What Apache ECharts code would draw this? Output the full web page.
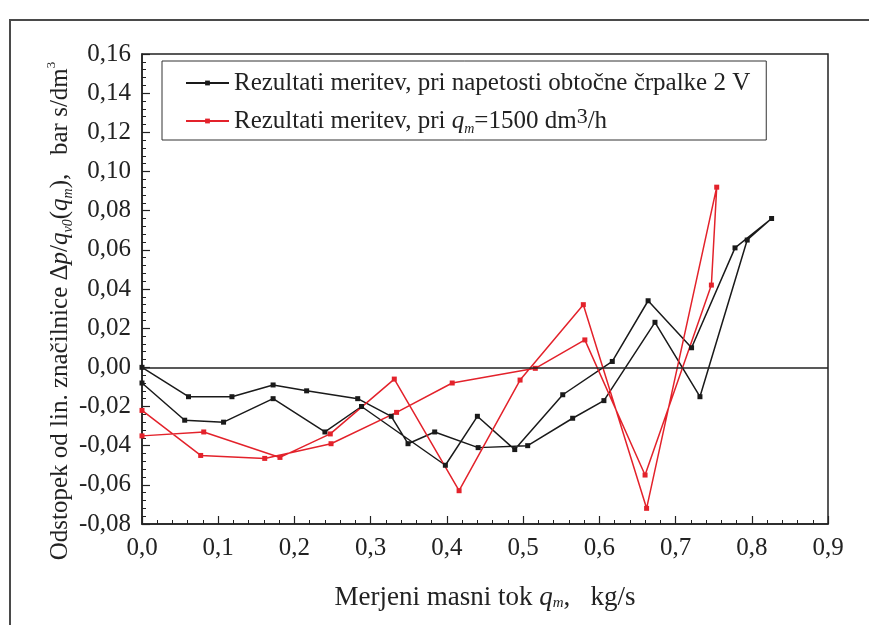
<!DOCTYPE html>
<html>
<head>
<meta charset="utf-8">
<script src="https://cdn.jsdelivr.net/npm/echarts@6/dist/echarts.min.js"></script>
<style>html,body{margin:0;padding:0;background:#fff}#c{width:869px;height:625px}</style>
</head>
<body>
<div id="c"></div>
<script>
// ---- data ----
const blackName = 'Rezultati meritev, pri napetosti obtočne črpalke 2 V';
const redName = 'Rezultati meritev, pri q_m=1500 dm3/h';
const blackX = [0.000,0.056,0.107,0.172,0.240,0.288,0.398,0.440,0.489,0.552,0.617,0.664,0.721,0.778,0.826,0.794,0.732,0.673,0.606,0.565,0.506,0.441,0.384,0.349,0.327,0.283,0.216,0.172,0.118,0.061,0.000];
const blackY = [-0.008,-0.027,-0.028,-0.016,-0.033,-0.020,-0.050,-0.025,-0.042,-0.014,0.003,0.034,0.010,0.061,0.076,0.065,-0.015,0.023,-0.017,-0.026,-0.040,-0.041,-0.033,-0.039,-0.025,-0.016,-0.012,-0.009,-0.015,-0.015,0.000];
const redX = [0.000,0.081,0.181,0.247,0.331,0.416,0.496,0.579,0.662,0.754,0.747,0.660,0.581,0.516,0.407,0.334,0.248,0.161,0.077,0.000];
const redY = [-0.035,-0.033,-0.046,-0.034,-0.006,-0.063,-0.0065,0.032,-0.072,0.092,0.042,-0.055,0.014,-0.0005,-0.008,-0.023,-0.039,-0.0465,-0.045,-0.022];
const xTicks = {min:0, max:0.9, step:0.1};
const yTicks = {min:-0.08, max:0.16, step:0.02};

const FONT = '"Liberation Serif", "Times New Roman", serif';
const BLACK = '#1a1a1a', RED = '#e3222b';
const pairs = (xs, ys) => xs.map((x, i) => [x, ys[i]]);
const richCommon = (fs, supFs) => ({
  i:   {fontFamily: FONT, fontSize: fs, fontStyle: 'italic', color: '#222'},
  sub: {fontFamily: FONT, fontSize: Math.round(fs*0.55), lineHeight: Math.round(fs*0.55), fontStyle: 'italic', color: '#222', verticalAlign: 'bottom'},
  sup: {fontFamily: FONT, fontSize: supFs, lineHeight: supFs, color: '#222', verticalAlign: 'top'}
});

const chart = echarts.init(document.getElementById('c'), null, {renderer: 'canvas'});
chart.setOption({
  animation: false,
  backgroundColor: '#fff',
  grid: {left: 142, right: 41, top: 54, bottom: 101, show: true, borderColor: '#222', borderWidth: 1.5, backgroundColor: 'transparent'},
  graphic: [
    {type: 'rect', shape: {x: 10, y: 20, width: 900, height: 700}, style: {fill: null, stroke: '#4a4a4a', lineWidth: 2}, silent: true},
    {type: 'text', x: 60, y: 311, rotation: Math.PI/2,
     style: {text: 'Odstopek od lin. značilnice Δ{i|p}/{i|q}{sub|v0}({i|q}{sub|m}),   bar s/dm{sup|3}',
       fontFamily: FONT, fontSize: 25, lineHeight: 30, fill: '#222', align: 'center', verticalAlign: 'middle',
       rich: richCommon(25, 13)}}
  ],
  legend: {
    show: true, orient: 'vertical', left: 162, top: 61,
    padding: [7, 16, 4, 23], itemGap: 8, itemWidth: 43, itemHeight: 6,
    borderColor: '#333', borderWidth: 1, backgroundColor: '#fff',
    textStyle: {fontFamily: FONT, fontSize: 25, color: '#222', lineHeight: 30, rich: richCommon(25, 22)},
    formatter: function (name) {
      if (name === redName) return 'Rezultati meritev, pri {i|q}{sub|m}=1500 dm{sup|3}/h';
      return name;
    },
    data: [blackName, redName]
  },
  xAxis: {
    type: 'value', min: xTicks.min, max: xTicks.max, interval: xTicks.step,
    name: 'Merjeni masni tok {i|q}{sub|m},   kg/s', nameLocation: 'middle', nameGap: 60,
    nameTextStyle: {fontFamily: FONT, fontSize: 27, color: '#222', rich: richCommon(27, 16)},
    axisLine: {onZero: false, lineStyle: {color: '#222', width: 1.5}},
    axisTick: {inside: true, length: 8, lineStyle: {color: '#222', width: 1.2}},
    minorTick: {show: true, splitNumber: 5, length: 4, lineStyle: {color: '#222', width: 1}},
    splitLine: {show: false},
    axisLabel: {fontFamily: FONT, fontSize: 25, color: '#222', margin: 12,
      formatter: v => v.toFixed(1).replace('.', ',')}
  },
  yAxis: {
    type: 'value', min: yTicks.min, max: yTicks.max, interval: yTicks.step,
    axisLine: {show: true, onZero: false, lineStyle: {color: '#222', width: 1.5}},
    axisTick: {show: true, inside: true, length: 8, lineStyle: {color: '#222', width: 1.2}},
    minorTick: {show: true, splitNumber: 5, length: 4, lineStyle: {color: '#222', width: 1}},
    splitLine: {show: false},
    axisLabel: {fontFamily: FONT, fontSize: 25, color: '#222', margin: 11,
      formatter: v => v.toFixed(2).replace('.', ',')}
  },
  series: [
    {name: blackName, type: 'line', data: pairs(blackX, blackY),
     symbol: 'rect', symbolSize: 5, color: BLACK,
     lineStyle: {color: BLACK, width: 1.5}, itemStyle: {color: BLACK},
     markLine: {silent: true, symbol: 'none', label: {show: false},
       lineStyle: {color: '#222', width: 1.5, type: 'solid'}, data: [{yAxis: 0}]}},
    {name: redName, type: 'line', data: pairs(redX, redY),
     symbol: 'rect', symbolSize: 5, color: RED,
     lineStyle: {color: RED, width: 1.5}, itemStyle: {color: RED}}
  ]
});
</script>
</body>
</html>
